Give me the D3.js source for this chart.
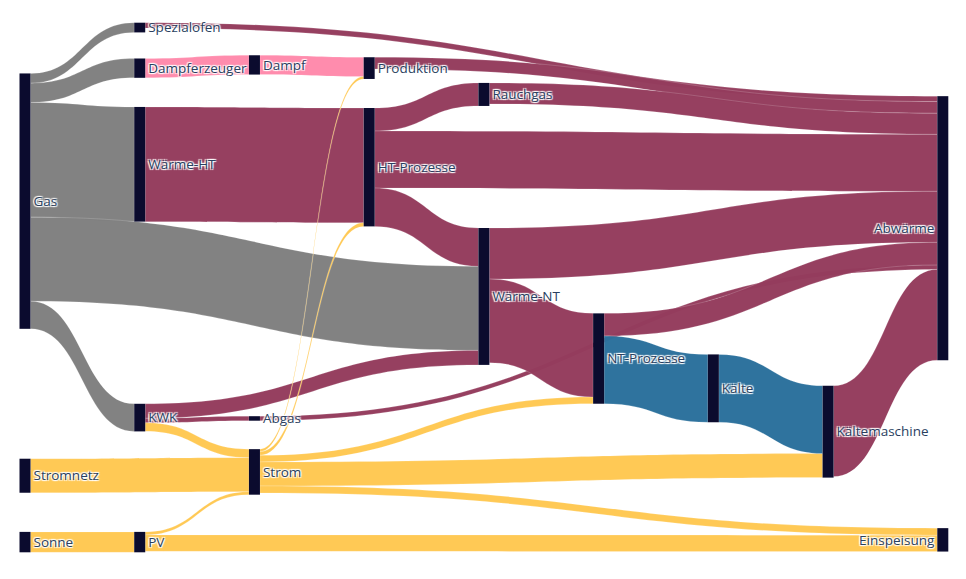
<!DOCTYPE html>
<html><head><meta charset="utf-8">
<script src="https://cdn.jsdelivr.net/npm/d3@7"></script>
<style>
html,body{margin:0;padding:0;background:#fff;}
svg{display:block;}
.label{font-family:"Open Sans",sans-serif;font-size:13.5px;fill:#2a3f5f;
  text-shadow:1px 1px 1px #fff,-1px -1px 1px #fff,1px -1px 1px #fff,-1px 1px 1px #fff;}
</style></head><body>
<svg id="chart" width="966" height="579"></svg>
<script>
// ---------- data ----------
const nodeNames = ["Gas","Stromnetz","Sonne",
  "Spezialofen","Dampferzeuger","Wärme-HT","KWK","PV",
  "Dampf","Abgas","Strom","Produktion","HT-Prozesse",
  "Rauchgas","Wärme-NT","NT-Prozesse","Kälte","Kältemaschine",
  "Abwärme","Einspeisung"];

const linkSources = ["Gas","Gas","Gas","Gas","Gas",
  "Spezialofen","Dampferzeuger","Dampf","Produktion","Wärme-HT",
  "HT-Prozesse","HT-Prozesse","HT-Prozesse","Rauchgas",
  "KWK","KWK","KWK","Abgas","Stromnetz","Sonne","PV","PV",
  "Strom","Strom","Strom","Strom","Strom",
  "Wärme-NT","Wärme-NT","NT-Prozesse","NT-Prozesse","Kälte","Kältemaschine"];
const linkTargets = ["Spezialofen","Dampferzeuger","Wärme-HT","Wärme-NT","KWK",
  "Abwärme","Dampf","Produktion","Abwärme","HT-Prozesse",
  "Rauchgas","Abwärme","Wärme-NT","Abwärme",
  "Wärme-NT","Abgas","Strom","Abwärme","Strom","PV","Strom","Einspeisung",
  "Produktion","HT-Prozesse","NT-Prozesse","Kältemaschine","Einspeisung",
  "Abwärme","NT-Prozesse","Abwärme","Kälte","Kältemaschine","Abwärme"];
const linkValues = [9.7,19.3,114.6,84,27.6,
  5.4,19.3,19.3,11.7,114.6,
  23,57,38.3,21,
  14.5,4.5,8.5,4.5,34,20.4,3,16.4,
  2.4,3.7,6.7,24,7,
  51,83.6,22.5,67.8,67.8,90.8];
const linkCarriers = ["Gas","Gas","Gas","Gas","Gas",
  "Wärme","Dampf","Dampf","Wärme","Wärme",
  "Wärme","Wärme","Wärme","Wärme",
  "Wärme","Wärme","Strom","Wärme","Strom","Strom","Strom","Strom",
  "Strom","Strom","Strom","Strom","Strom",
  "Wärme","Wärme","Wärme","Kälte","Kälte","Wärme"];

const carrierNames  = ["Gas","Wärme","Dampf","Strom","Kälte"];
const carrierColors = ["#808080","#943c5d","#ff8aab","#ffc852","#2b709c"];

// ---------- layout parameters ----------
const X0 = 19.5, X1 = 948.3, NODE_W = 11;
const Y0 = 22.7, Y1 = 552.3;
const PAD = 19, ITER = 10, FILL = 0.585;

const color = d3.scaleOrdinal().domain(carrierNames).range(carrierColors);

// ---------- graph ----------
const nodes = nodeNames.map((name, index) => ({name, index, sourceLinks: [], targetLinks: []}));
const byName = new Map(nodes.map(n => [n.name, n]));
const links = linkSources.map((s, i) => ({
  source: byName.get(s), target: byName.get(linkTargets[i]),
  value: linkValues[i], carrier: linkCarriers[i], index: i
}));
links.forEach(l => { l.source.sourceLinks.push(l); l.target.targetLinks.push(l); });
nodes.forEach(n => n.value = Math.max(d3.sum(n.sourceLinks, l => l.value), d3.sum(n.targetLinks, l => l.value)));

{
  let current = new Set(nodes), next = new Set(), x = 0;
  while (current.size) {
    for (const n of current) { n.depth = x; for (const l of n.sourceLinks) next.add(l.target); }
    current = next; next = new Set(); x++;
  }
}
const nCols = d3.max(nodes, n => n.depth) + 1;
nodes.forEach(n => n.layer = n.sourceLinks.length ? n.depth : nCols - 1);
const columns = d3.range(nCols).map(i => nodes.filter(n => n.layer === i));

const xScale = d3.scaleLinear().domain([0, nCols - 1]).range([X0, X1 - NODE_W]);
nodes.forEach(n => { n.x0 = xScale(n.layer); n.x1 = n.x0 + NODE_W; });

const maxColTotal = d3.max(columns, c => d3.sum(c, n => n.value));
const valueScale = d3.scaleLinear().domain([0, maxColTotal]).range([0, (Y1 - Y0) * FILL]);
links.forEach(l => l.width = valueScale(l.value));

// ---------- relaxation (d3-sankey style) ----------
const mid = n => n.y0 + n.y1;
const cmpT = (a, b) => mid(a.target) - mid(b.target) || a.index - b.index;
const cmpS = (a, b) => mid(a.source) - mid(b.source) || a.index - b.index;
function reorderLinks(list) { for (const n of list) { n.sourceLinks.sort(cmpT); n.targetLinks.sort(cmpS); } }
function reorderNodeLinks(n) {
  for (const l of n.targetLinks) l.source.sourceLinks.sort(cmpT);
  for (const l of n.sourceLinks) l.target.targetLinks.sort(cmpS);
}
for (const col of columns) {
  let y = Y0;
  for (const n of col) { n.y0 = y; n.y1 = y + valueScale(n.value); y = n.y1; }
  const gap = col.length > 1 ? (Y1 - y) / (col.length - 1) : (Y1 - y) / 2;
  col.forEach((n, i) => { const off = col.length > 1 ? gap * i : gap; n.y0 += off; n.y1 += off; });
}
reorderLinks(nodes);

function targetTop(source, target) {
  let y = source.y0 - (source.sourceLinks.length - 1) * PAD / 2;
  for (const l of source.sourceLinks) { if (l.target === target) break; y += l.width + PAD; }
  for (const l of target.targetLinks) { if (l.source === source) break; y -= l.width; }
  return y;
}
function sourceTop(source, target) {
  let y = target.y0 - (target.targetLinks.length - 1) * PAD / 2;
  for (const l of target.targetLinks) { if (l.source === source) break; y += l.width + PAD; }
  for (const l of source.sourceLinks) { if (l.target === target) break; y -= l.width; }
  return y;
}
function topToBottom(col, y, i, a) {
  for (; i < col.length; ++i) { const n = col[i]; const dy = (y - n.y0) * a; if (dy > 1e-6) { n.y0 += dy; n.y1 += dy; } y = n.y1 + PAD; }
}
function bottomToTop(col, y, i, a) {
  for (; i >= 0; --i) { const n = col[i]; const dy = (n.y1 - y) * a; if (dy > 1e-6) { n.y0 -= dy; n.y1 -= dy; } y = n.y0 - PAD; }
}
function resolve(col, a) {
  const i = col.length >> 1, s = col[i];
  bottomToTop(col, s.y0 - PAD, i - 1, a);
  topToBottom(col, s.y1 + PAD, i + 1, a);
  bottomToTop(col, Y1, col.length - 1, a);
  topToBottom(col, Y0, 0, a);
}
for (let it = 0; it < ITER; ++it) {
  const alpha = Math.pow(0.99, it);
  const beta = Math.max(1 - alpha, (it + 1) / ITER);
  for (let i = nCols - 2; i >= 0; --i) {
    for (const s of columns[i]) {
      let y = 0, w = 0;
      for (const l of s.sourceLinks) { const v = l.value * (l.target.layer - s.layer); y += sourceTop(s, l.target) * v; w += v; }
      if (!(w > 0)) continue;
      const dy = (y / w - s.y0) * alpha; s.y0 += dy; s.y1 += dy; reorderNodeLinks(s);
    }
    resolve(columns[i], beta);
  }
  for (let i = 1; i < nCols; ++i) {
    for (const t of columns[i]) {
      let y = 0, w = 0;
      for (const l of t.targetLinks) { const v = l.value * (t.layer - l.source.layer); y += targetTop(l.source, t) * v; w += v; }
      if (!(w > 0)) continue;
      const dy = (y / w - t.y0) * alpha; t.y0 += dy; t.y1 += dy; reorderNodeLinks(t);
    }
    resolve(columns[i], beta);
  }
}
// fit the relaxed layout to the full vertical extent (gaps are stretched, node heights kept)
{
  const minTop = d3.min(nodes, n => n.y0);
  const s = d3.min(nodes.filter(n => n.y0 - minTop > 1e-6), n => (Y1 - Y0 - (n.y1 - n.y0)) / (n.y0 - minTop));
  nodes.forEach(n => { const h = n.y1 - n.y0; n.y0 = Y0 + (n.y0 - minTop) * s; n.y1 = n.y0 + h; });
}
reorderLinks(nodes);
for (const n of nodes) {
  let a = n.y0, b = n.y0;
  for (const l of n.sourceLinks) { l.y0 = a + l.width / 2; a += l.width; }
  for (const l of n.targetLinks) { l.y1 = b + l.width / 2; b += l.width; }
}

// ---------- draw ----------
const svg = d3.select("#chart");
function linkPath(l) {
  const x0 = l.source.x1, x1 = l.target.x0, xm = d3.interpolateNumber(x0, x1)(0.5);
  const h = l.width / 2;
  const p = d3.path();
  p.moveTo(x0, l.y0 - h);
  p.bezierCurveTo(xm, l.y0 - h, xm, l.y1 - h, x1, l.y1 - h);
  p.lineTo(x1, l.y1 + h);
  p.bezierCurveTo(xm, l.y1 + h, xm, l.y0 + h, x0, l.y0 + h);
  p.closePath();
  return p.toString();
}
svg.append("g").selectAll("path").data(links).join("path")
  .attr("d", linkPath)
  .attr("fill", d => color(d.carrier))
  .attr("fill-opacity", 0.98)
  .attr("stroke", "#fff").attr("stroke-opacity", 0.35).attr("stroke-width", 0.5);

svg.append("g").selectAll("rect").data(nodes).join("rect")
  .attr("x", d => d.x0).attr("y", d => d.y0)
  .attr("width", NODE_W).attr("height", d => Math.max(1, d.y1 - d.y0))
  .attr("fill", "#0b0b2e");

svg.append("g").selectAll("text").data(nodes).join("text")
  .attr("class", "label")
  .attr("x", d => d.layer === nCols - 1 ? d.x0 - 3 : d.x1 + 3)
  .attr("y", d => (d.y0 + d.y1) / 2)
  .attr("dy", "0.35em")
  .attr("text-anchor", d => d.layer === nCols - 1 ? "end" : "start")
  .text(d => d.name);
</script>
</body></html>
